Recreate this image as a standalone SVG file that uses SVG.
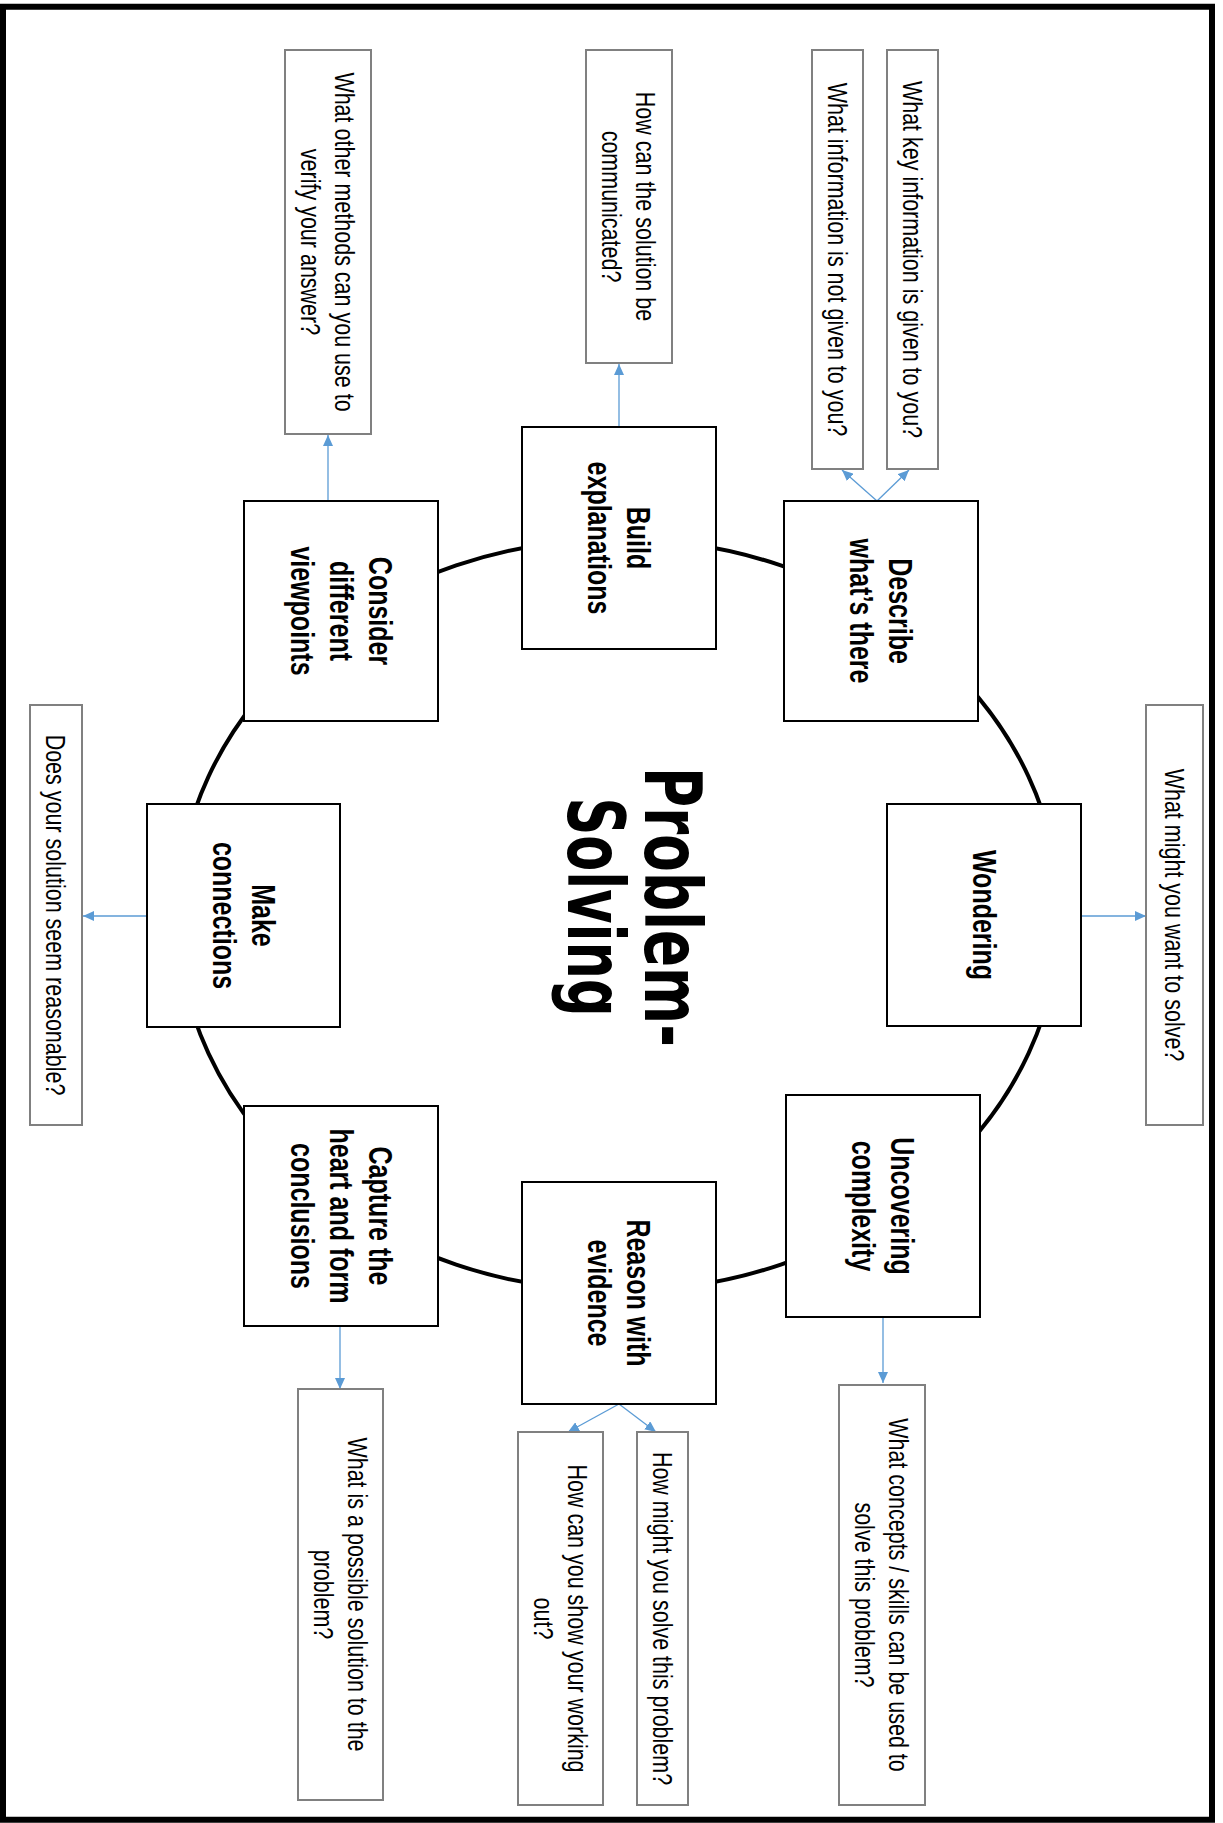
<svg xmlns="http://www.w3.org/2000/svg" width="1223" height="1823" viewBox="0 0 1223 1823">
<style>
.node rect{fill:#fff;stroke:#000;stroke-width:2}
.q rect{fill:#fff;stroke:#808080;stroke-width:2}
.lbl{font-family:"Liberation Sans",Arial,sans-serif;font-weight:bold;font-size:25px;text-anchor:middle;fill:#000}
.qt{font-family:"Liberation Sans",Arial,sans-serif;font-size:21.5px;text-anchor:middle;fill:#000}
.conn line{stroke:#5B9BD5;stroke-width:1.3;fill:none;marker-end:url(#arr)}
.title{font-family:"DejaVu Sans",sans-serif;font-weight:bold;font-size:60px;text-anchor:middle;fill:#000}
</style>
<defs>
<marker id="arr" markerUnits="userSpaceOnUse" markerWidth="12" markerHeight="10" refX="11" refY="5" orient="auto">
<path d="M0,0 L11,5 L0,10 Z" fill="#5B9BD5"/>
</marker>
</defs>
<rect x="3" y="6.75" width="1209" height="1813" fill="#fff" stroke="#000" stroke-width="6"/>
<ellipse cx="618.5" cy="915" rx="441" ry="376" fill="none" stroke="#000" stroke-width="4"/>

<g id="connectors" class="conn">
<line x1="328" y1="501" x2="328" y2="435"/>
<line x1="619" y1="427" x2="619" y2="364"/>
<line x1="877" y1="501" x2="842" y2="470"/>
<line x1="877" y1="501" x2="909" y2="470"/>
<line x1="1081" y1="916" x2="1146" y2="916"/>
<line x1="147" y1="916" x2="83" y2="916"/>
<line x1="883" y1="1317" x2="883" y2="1383"/>
<line x1="340" y1="1326" x2="340" y2="1389"/>
<line x1="619" y1="1404" x2="568" y2="1432"/>
<line x1="619" y1="1404" x2="656" y2="1432"/>
</g>

<g id="title">
<text class="title" transform="translate(645,907) rotate(90) scale(1,1.3)"><tspan x="0" y="0" textLength="280" lengthAdjust="spacingAndGlyphs">Problem-</tspan></text>
<text class="title" transform="translate(568,907) rotate(90) scale(1,1.3)"><tspan x="0" y="0" textLength="219" lengthAdjust="spacingAndGlyphs">Solving</tspan></text>
</g>

<g id="n-consider" class="node"><rect x="244" y="501" width="194" height="220"/>
<text class="lbl" transform="translate(341,611) rotate(90) scale(1,1.3)"><tspan x="0" y="-21.25">Consider</tspan><tspan x="0" y="8.75">different</tspan><tspan x="0" y="38.75">viewpoints</tspan></text></g>
<g id="n-build" class="node"><rect x="522" y="427" width="194" height="222"/>
<text class="lbl" transform="translate(619,538) rotate(90) scale(1,1.3)"><tspan x="0" y="-6.25">Build</tspan><tspan x="0" y="23.75">explanations</tspan></text></g>
<g id="n-describe" class="node"><rect x="784" y="501" width="194" height="220"/>
<text class="lbl" transform="translate(881,611) rotate(90) scale(1,1.3)"><tspan x="0" y="-6.25">Describe</tspan><tspan x="0" y="23.75">what’s there</tspan></text></g>
<g id="n-wondering" class="node"><rect x="887" y="804" width="194" height="222"/>
<text class="lbl" transform="translate(984,915) rotate(90) scale(1,1.3)"><tspan x="0" y="8.75">Wondering</tspan></text></g>
<g id="n-make" class="node"><rect x="147" y="804" width="193" height="223"/>
<text class="lbl" transform="translate(243.5,915.5) rotate(90) scale(1,1.3)"><tspan x="0" y="-6.25">Make</tspan><tspan x="0" y="23.75">connections</tspan></text></g>
<g id="n-uncovering" class="node"><rect x="786" y="1095" width="194" height="222"/>
<text class="lbl" transform="translate(883,1206) rotate(90) scale(1,1.3)"><tspan x="0" y="-6.25">Uncovering</tspan><tspan x="0" y="23.75">complexity</tspan></text></g>
<g id="n-capture" class="node"><rect x="244" y="1106" width="194" height="220"/>
<text class="lbl" transform="translate(341,1216) rotate(90) scale(1,1.3)"><tspan x="0" y="-21.25">Capture the</tspan><tspan x="0" y="8.75">heart and form</tspan><tspan x="0" y="38.75">conclusions</tspan></text></g>
<g id="n-reason" class="node"><rect x="522" y="1182" width="194" height="222"/>
<text class="lbl" transform="translate(619,1293) rotate(90) scale(1,1.3)"><tspan x="0" y="-6.25">Reason with</tspan><tspan x="0" y="23.75">evidence</tspan></text></g>

<g id="q-methods" class="q"><rect x="285" y="50" width="86" height="384"/>
<text class="qt" transform="translate(328,242) rotate(90) scale(1,1.3)"><tspan x="0" y="-5.5">What other methods can you use to</tspan><tspan x="0" y="20.5">verify your answer?</tspan></text></g>
<g id="q-communicated" class="q"><rect x="586" y="50" width="86" height="313"/>
<text class="qt" transform="translate(629,206.5) rotate(90) scale(1,1.3)"><tspan x="0" y="-5.5">How can the solution be</tspan><tspan x="0" y="20.5">communicated?</tspan></text></g>
<g id="q-notgiven" class="q"><rect x="812" y="50" width="51" height="419"/>
<text class="qt" transform="translate(837.5,259.5) rotate(90) scale(1,1.3)"><tspan x="0" y="7.5">What information is not given to you?</tspan></text></g>
<g id="q-keyinfo" class="q"><rect x="887" y="50" width="51" height="419"/>
<text class="qt" transform="translate(912.5,259.5) rotate(90) scale(1,1.3)"><tspan x="0" y="7.5">What key information is given to you?</tspan></text></g>
<g id="q-want" class="q"><rect x="1146" y="705" width="57" height="420"/>
<text class="qt" transform="translate(1174.5,915) rotate(90) scale(1,1.3)"><tspan x="0" y="7.5">What might you want to solve?</tspan></text></g>
<g id="q-reasonable" class="q"><rect x="30" y="705" width="52" height="420"/>
<text class="qt" transform="translate(56,915) rotate(90) scale(1,1.3)"><tspan x="0" y="7.5">Does your solution seem reasonable?</tspan></text></g>
<g id="q-concepts" class="q"><rect x="839" y="1385" width="86" height="420"/>
<text class="qt" transform="translate(882,1595) rotate(90) scale(1,1.3)"><tspan x="0" y="-5.5">What concepts / skills can be used to</tspan><tspan x="0" y="20.5">solve this problem?</tspan></text></g>
<g id="q-mightsolve" class="q"><rect x="637" y="1432" width="51" height="373"/>
<text class="qt" transform="translate(662.5,1618.5) rotate(90) scale(1,1.3)"><tspan x="0" y="7.5">How might you solve this problem?</tspan></text></g>
<g id="q-working" class="q"><rect x="518" y="1432" width="85" height="373"/>
<text class="qt" transform="translate(560.5,1618.5) rotate(90) scale(1,1.3)"><tspan x="0" y="-5.5">How can you show your working</tspan><tspan x="0" y="20.5">out?</tspan></text></g>
<g id="q-possible" class="q"><rect x="298" y="1389" width="85" height="411"/>
<text class="qt" transform="translate(340.5,1594.5) rotate(90) scale(1,1.3)"><tspan x="0" y="-5.5">What is a possible solution to the</tspan><tspan x="0" y="20.5">problem?</tspan></text></g>
</svg>
